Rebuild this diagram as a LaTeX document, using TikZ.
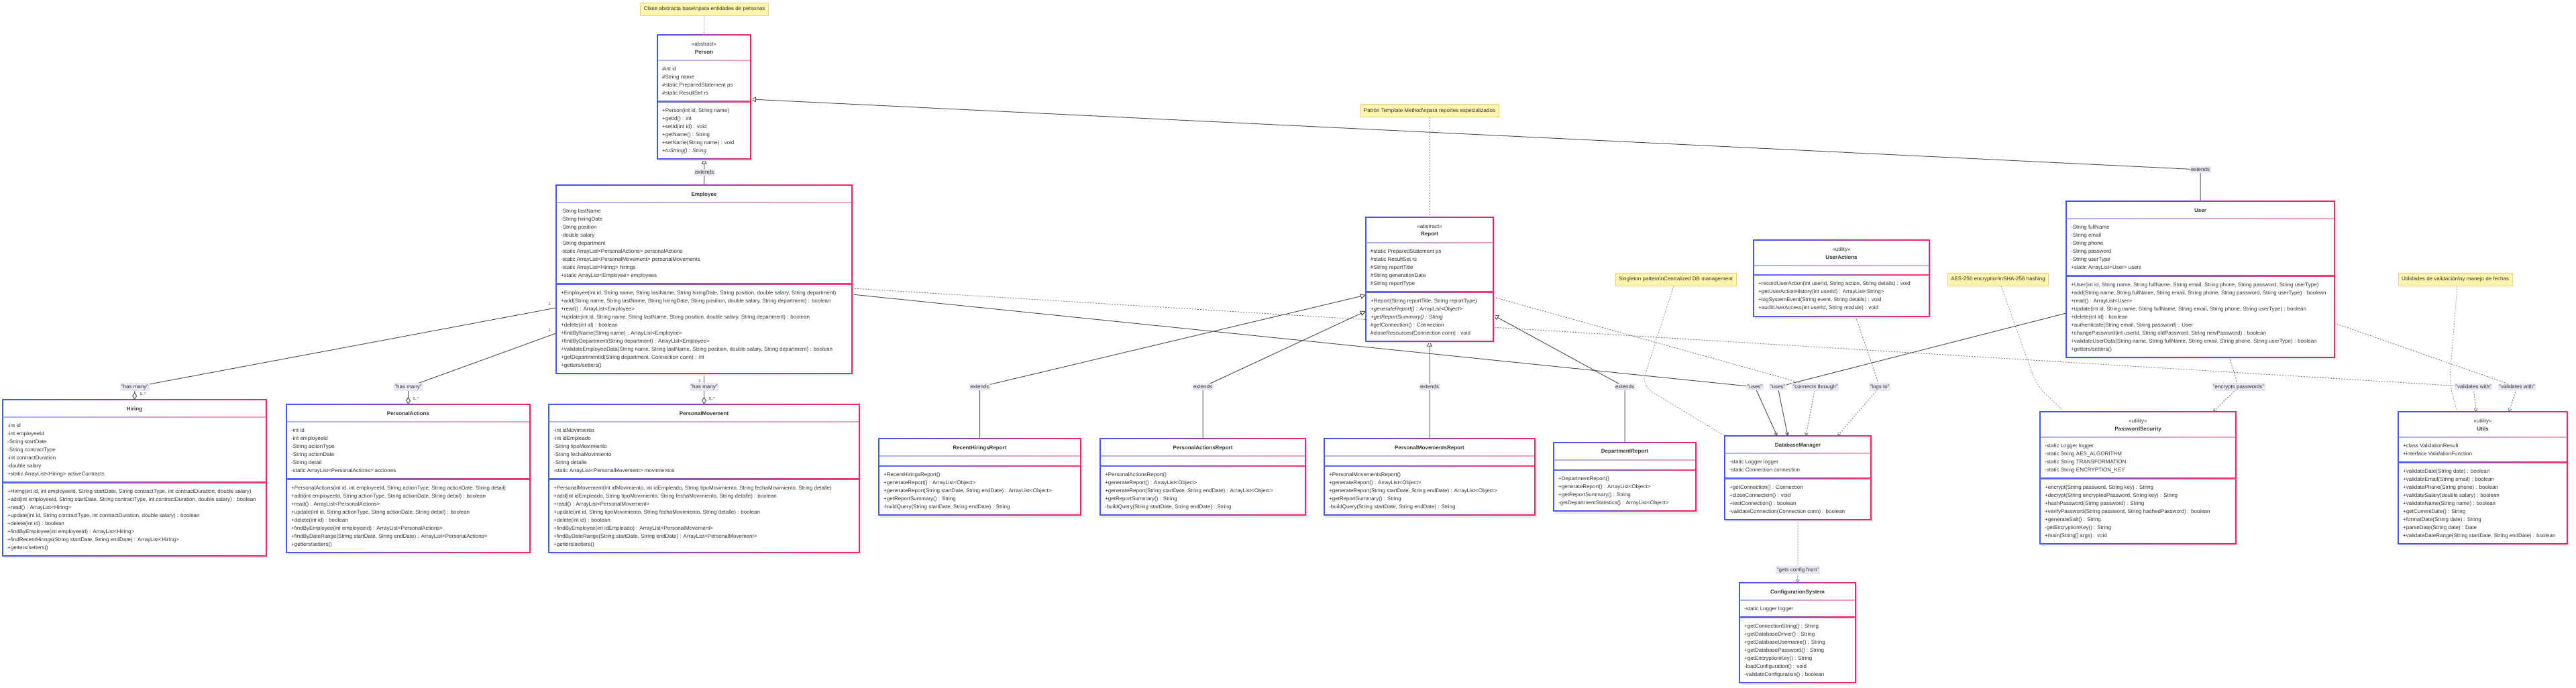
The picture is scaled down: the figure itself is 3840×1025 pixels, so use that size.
\documentclass[tikz,border=0pt]{standalone}
\usepackage{fontspec}
\setmainfont{Liberation Sans}
\usetikzlibrary{arrows.meta,calc}
\pgfdeclarelayer{back}
\pgfdeclarelayer{edges}
\pgfsetlayers{back,edges,main}
\definecolor{ublue}{HTML}{3D5AFE}
\definecolor{upink}{HTML}{F4245E}
\definecolor{txtc}{HTML}{333333}
\definecolor{notefill}{HTML}{FFF5AD}
\definecolor{notedraw}{HTML}{E3D27A}
\definecolor{lblbg}{HTML}{E8E8F2}
\definecolor{edgec}{HTML}{555555}
\definecolor{dotc}{HTML}{777777}
\newcommand\clsframe[7]{%
  \fill[black!9] ({#2+2},{#3+3}) rectangle ({#4+3},{#5+3.5});
  \shade[left color=ublue,right color=upink] ({#2-0.8},{#3-0.8}) rectangle ({#4+0.8},{#5+0.8});
  \fill[white] ({#2+0.8},{#3+0.8}) rectangle ({#4-0.8},{#5-0.8});
  \shade[left color=ublue!45,right color=upink!45] ({#2+0.8},{#6-0.7}) rectangle ({#4-0.8},{#6+0.7});
  \shade[left color=ublue!90,right color=upink!90] ({#2+0.8},{#7-0.7}) rectangle ({#4-0.8},{#7+0.7});
  \node[boxnode,minimum width={#4-#2},minimum height={#5-#3}] (#1) at ({(#2+#4)/2},{(#3+#5)/2}) {};
}
\newcommand\members[4]{\foreach \t [count=\i] in {#4} {\node[mem] (#1\i) at ({#2},{#3+12*\i}) {\t};}}
\tikzset{
  boxnode/.style={inner sep=0pt,outer sep=0pt},
  mem/.style={anchor=west,inner sep=0pt,font=\fontsize{8}{9.6}\selectfont,text=txtc,text height=5.9pt,text depth=1.7pt},
  cname/.style={inner sep=0pt,font=\fontsize{8}{9.6}\selectfont\bfseries,text=txtc},
  cster/.style={inner sep=0pt,font=\fontsize{8}{9.6}\selectfont,text=txtc},
  note/.style={fill=notefill,draw=notedraw,line width=0.8pt,font=\fontsize{8}{9.6}\selectfont,text=txtc,inner xsep=5pt,inner ysep=0pt,minimum height=19pt},
  lbl/.style={fill=lblbg,inner xsep=1.5pt,inner ysep=2pt,font=\fontsize{8}{9.6}\selectfont,text=txtc},
  mult/.style={inner sep=0pt,font=\fontsize{6}{7}\selectfont,text=txtc},
  solidedge/.style={draw=edgec,line width=1pt},
  dotedge/.style={draw=dotc,line width=0.9pt,dash pattern=on 2pt off 2pt},
  ext/.style={solidedge,-{Triangle[length=8pt,width=8pt,fill=white]}},
  agg/.style={solidedge,-{Diamond[length=11pt,width=7pt,fill=white]}},
  dep/.style={solidedge,-{Straight Barb[length=4pt,width=5pt]}},
  depd/.style={dotedge,-{Straight Barb[length=4pt,width=5pt]}},
  noteline/.style={draw=dotc!80,line width=0.8pt,dash pattern=on 2pt off 2pt},
}
\begin{document}
\begin{tikzpicture}[x=1pt,y=-1pt]
\useasboundingbox (0,0) rectangle (3840,1025);
\begin{pgfonlayer}{back}
\fill[white] (0,0) rectangle (3840,1025);
\end{pgfonlayer}

% ---------- Person
\clsframe{person}{980}{52}{1119}{236.5}{90}{151.5}
\node[cster] (person-s) at (person.north |- 0,66) {«abstract»};
\node[cname] (person-n) at (person.north |- 0,77.5) {Person};
\members{person-a}{987}{91.5}{{\#int id},{\#String name},{\#static PreparedStatement ps},{\#static ResultSet rs}}
\members{person-m}{987}{153}{{+Person(int id, String name)},{+getId() : int},{+setId(int id) : void},{+getName() : String},{+setName(String name) : void},{+\textit{toString() : String}}}

% ---------- Employee
\clsframe{emp}{829}{276}{1270}{556.5}{302}{423.5}
\node[cname] (emp-n) at (emp.north |- 0,290) {Employee};
\members{emp-a}{836}{303.5}{{-String lastName},{-String hiringDate},{-String position},{-double salary},{-String department},{-static ArrayList<PersonalActions> personalActions},{-static ArrayList<PersonalMovement> personalMovements},{-static ArrayList<Hiring> hirings},{+static ArrayList<Employee> employees}}
\members{emp-m}{836}{425}{{+Employee(int id, String name, String lastName, String hiringDate, String position, double salary, String department)},{+add(String name, String lastName, String hiringDate, String position, double salary, String department) : boolean},{+read() : ArrayList<Employee>},{+update(int id, String name, String lastName, String position, double salary, String department) : boolean},{+delete(int id) : boolean},{+findByName(String name) : ArrayList<Employee>},{+findByDepartment(String department) : ArrayList<Employee>},{+validateEmployeeData(String name, String lastName, String position, double salary, String department) : boolean},{+getDepartmentId(String department, Connection conn) : int},{+getters/setters()}}

% ---------- Report
\clsframe{report}{2036}{324}{2226}{508.5}{362}{435.5}
\node[cster] (report-s) at (report.north |- 0,337.5) {«abstract»};
\node[cname] (report-n) at (report.north |- 0,349.5) {Report};
\members{report-a}{2043}{363.5}{{\#static PreparedStatement ps},{\#static ResultSet rs},{\#String reportTitle},{\#String generationDate},{\#String reportType}}
\members{report-m}{2043}{437}{{+Report(String reportTitle, String reportType)},{+\textit{generateReport() : ArrayList<Object>}},{+\textit{getReportSummary() : String}},{\#getConnection() : Connection},{\#closeResources(Connection conn) : void}}

% ---------- UserActions
\clsframe{ua}{2614}{358}{2876}{472}{396}{410}
\node[cster] (ua-s) at (ua.north |- 0,372) {«utility»};
\node[cname] (ua-n) at (ua.north |- 0,384) {UserActions};
\members{ua-m}{2621}{411.5}{{+recordUserAction(int userId, String action, String details) : void},{+getUserActionHistory(int userId) : ArrayList<String>},{+logSystemEvent(String event, String details) : void},{+auditUserAccess(int userId, String module) : void}}

% ---------- User
\clsframe{user}{3080}{300}{3480}{532.5}{326}{411.5}
\node[cname] (user-n) at (user.north |- 0,314) {User};
\members{user-a}{3087}{327.5}{{-String fullName},{-String email},{-String phone},{-String password},{-String userType},{+static ArrayList<User> users}}
\members{user-m}{3087}{413}{{+User(int id, String name, String fullName, String email, String phone, String password, String userType)},{+add(String name, String fullName, String email, String phone, String password, String userType) : boolean},{+read() : ArrayList<User>},{+update(int id, String name, String fullName, String email, String phone, String userType) : boolean},{+delete(int id) : boolean},{+authenticate(String email, String password) : User},{+changePassword(int userId, String oldPassword, String newPassword) : boolean},{+validateUserData(String name, String fullName, String email, String phone, String userType) : boolean},{+getters/setters()}}

% ---------- Hiring
\clsframe{hiring}{4}{596}{397}{828.5}{622}{719.5}
\node[cname] (hiring-n) at (hiring.north |- 0,610) {Hiring};
\members{hiring-a}{11}{623.5}{{-int id},{-int employeeId},{-String startDate},{-String contractType},{-int contractDuration},{-double salary},{+static ArrayList<Hiring> activeContracts}}
\members{hiring-m}{11}{721}{{+Hiring(int id, int employeeId, String startDate, String contractType, int contractDuration, double salary)},{+add(int employeeId, String startDate, String contractType, int contractDuration, double salary) : boolean},{+read() : ArrayList<Hiring>},{+update(int id, String contractType, int contractDuration, double salary) : boolean},{+delete(int id) : boolean},{+findByEmployee(int employeeId) : ArrayList<Hiring>},{+findRecentHirings(String startDate, String endDate) : ArrayList<Hiring>},{+getters/setters()}}

% ---------- PersonalActions
\clsframe{pa}{427}{603}{790}{823.5}{629}{714.5}
\node[cname] (pa-n) at (pa.north |- 0,617) {PersonalActions};
\members{pa-a}{434}{630.5}{{-int id},{-int employeeId},{-String actionType},{-String actionDate},{-String detail},{-static ArrayList<PersonalActions> acciones}}
\members{pa-m}{434}{716}{{+PersonalActions(int id, int employeeId, String actionType, String actionDate, String detail)},{+add(int employeeId, String actionType, String actionDate, String detail) : boolean},{+read() : ArrayList<PersonalActions>},{+update(int id, String actionType, String actionDate, String detail) : boolean},{+delete(int id) : boolean},{+findByEmployee(int employeeId) : ArrayList<PersonalActions>},{+findByDateRange(String startDate, String endDate) : ArrayList<PersonalActions>},{+getters/setters()}}

% ---------- PersonalMovement
\clsframe{pm}{818}{603}{1281}{823.5}{629}{714.5}
\node[cname] (pm-n) at (pm.north |- 0,617) {PersonalMovement};
\members{pm-a}{825}{630.5}{{-int idMovimiento},{-int idEmpleado},{-String tipoMovimiento},{-String fechaMovimiento},{-String detalle},{-static ArrayList<PersonalMovement> movimientos}}
\members{pm-m}{825}{716}{{+PersonalMovement(int idMovimiento, int idEmpleado, String tipoMovimiento, String fechaMovimiento, String detalle)},{+add(int idEmpleado, String tipoMovimiento, String fechaMovimiento, String detalle) : boolean},{+read() : ArrayList<PersonalMovement>},{+update(int id, String tipoMovimiento, String fechaMovimiento, String detalle) : boolean},{+delete(int id) : boolean},{+findByEmployee(int idEmpleado) : ArrayList<PersonalMovement>},{+findByDateRange(String startDate, String endDate) : ArrayList<PersonalMovement>},{+getters/setters()}}

% ---------- Reports
\clsframe{rhr}{1310}{654}{1611}{768}{680}{695}
\node[cname] (rhr-n) at (rhr.north |- 0,668) {RecentHiringsReport};
\members{rhr-m}{1317}{696.5}{{+RecentHiringsReport()},{+generateReport() : ArrayList<Object>},{+generateReport(String startDate, String endDate) : ArrayList<Object>},{+getReportSummary() : String},{-buildQuery(String startDate, String endDate) : String}}

\clsframe{par}{1640}{654}{1946}{768}{680}{695}
\node[cname] (par-n) at (par.north |- 0,668) {PersonalActionsReport};
\members{par-m}{1647}{696.5}{{+PersonalActionsReport()},{+generateReport() : ArrayList<Object>},{+generateReport(String startDate, String endDate) : ArrayList<Object>},{+getReportSummary() : String},{-buildQuery(String startDate, String endDate) : String}}

\clsframe{pmr}{1974}{654}{2288}{768}{680}{695}
\node[cname] (pmr-n) at (pmr.north |- 0,668) {PersonalMovementsReport};
\members{pmr-m}{1981}{696.5}{{+PersonalMovementsReport()},{+generateReport() : ArrayList<Object>},{+generateReport(String startDate, String endDate) : ArrayList<Object>},{+getReportSummary() : String},{-buildQuery(String startDate, String endDate) : String}}

\clsframe{dr}{2316}{660}{2528}{762}{686}{701}
\node[cname] (dr-n) at (dr.north |- 0,674) {DepartmentReport};
\members{dr-m}{2323}{702.5}{{+DepartmentReport()},{+generateReport() : ArrayList<Object>},{+getReportSummary() : String},{-getDepartmentStatistics() : ArrayList<Object>}}

% ---------- DatabaseManager
\clsframe{dbm}{2571}{650}{2789}{774.5}{676}{713.5}
\node[cname] (dbm-n) at (dbm.north |- 0,664) {DatabaseManager};
\members{dbm-a}{2578}{677.5}{{-static Logger logger},{-static Connection connection}}
\members{dbm-m}{2578}{715}{{+getConnection() : Connection},{+closeConnection() : void},{+testConnection() : boolean},{-validateConnection(Connection conn) : boolean}}

% ---------- ConfigurationSystem
\clsframe{cfg}{2593}{869}{2766}{1017.5}{895}{920.5}
\node[cname] (cfg-n) at (cfg.north |- 0,883) {ConfigurationSystem};
\members{cfg-a}{2600}{896.5}{{-static Logger logger}}
\members{cfg-m}{2600}{922}{{+getConnectionString() : String},{+getDatabaseDriver() : String},{+getDatabaseUsername() : String},{+getDatabasePassword() : String},{+getEncryptionKey() : String},{-loadConfiguration() : void},{-validateConfiguration() : boolean}}

% ---------- PasswordSecurity
\clsframe{ps}{3041}{614}{3333}{810.5}{652}{713.5}
\node[cster] (ps-s) at (ps.north |- 0,628) {«utility»};
\node[cname] (ps-n) at (ps.north |- 0,640) {PasswordSecurity};
\members{ps-a}{3048}{653.5}{{-static Logger logger},{-static String AES\_ALGORITHM},{-static String TRANSFORMATION},{-static String ENCRYPTION\_KEY}}
\members{ps-m}{3048}{715}{{+encrypt(String password, String key) : String},{+decrypt(String encryptedPassword, String key) : String},{+hashPassword(String password) : String},{+verifyPassword(String password, String hashedPassword) : boolean},{+generateSalt() : String},{-getEncryptionKey() : String},{+main(String[] args) : void}}

% ---------- Utils
\clsframe{utils}{3575}{614}{3827}{810.5}{652}{689.5}
\node[cster] (utils-s) at (utils.north |- 0,628) {«utility»};
\node[cname] (utils-n) at (utils.north |- 0,640) {Utils};
\members{utils-a}{3582}{653.5}{{+class ValidationResult},{+interface ValidationFunction}}
\members{utils-m}{3582}{691}{{+validateDate(String date) : boolean},{+validateEmail(String email) : boolean},{+validatePhone(String phone) : boolean},{+validateSalary(double salary) : boolean},{+validateName(String name) : boolean},{+getCurrentDate() : String},{+formatDate(String date) : String},{+parseDate(String date) : Date},{+validateDateRange(String startDate, String endDate) : boolean}}

% ---------- Notes
\node[note] (n1) at (1050,13.5) {Clase abstracta base\textbackslash npara entidades de personas};
\node[note] (n2) at (2131,165) {Patrón Template Method\textbackslash npara reportes especializados};
\node[note] (n3) at (2498,416.5) {Singleton pattern\textbackslash nCentralized DB management};
\node[note] (n4) at (2978.5,416.5) {AES-256 encryption\textbackslash nSHA-256 hashing};
\node[note] (n5) at (3660,416.5) {Utilidades de validación\textbackslash ny manejo de fechas};

% ---------- label positions
\coordinate (c1) at (1050,257);
\coordinate (c2) at (3280,253);
\coordinate (c3) at (1460.5,577);
\coordinate (c4) at (1793,577);
\coordinate (c5) at (2131,577);
\coordinate (c6) at (2422,577);
\coordinate (c7) at (201,577);
\coordinate (c8) at (608.5,577);
\coordinate (c9) at (1049.5,577);
\coordinate (c10) at (2616,577);
\coordinate (c11) at (2650,577);
\coordinate (c12) at (2706,577);
\coordinate (c13) at (2802,577);
\coordinate (c14) at (2680,850);
\coordinate (c15) at (3337,577);
\coordinate (c16) at (3687,577);
\coordinate (c17) at (3752,577);

% ---------- Edges
\begin{pgfonlayer}{edges}
\draw[noteline] (n1.south) -- (person.north);
\draw[noteline] (n2.south) -- (report.north);
\draw[noteline,rounded corners=18pt] (n3.south -| 2495,0) -- (2447,575) -- (dbm.north west);
\draw[noteline,rounded corners=18pt] (n4.south -| 2983,0) -- (3036,575) -- (ps.north -| 3077,0);
\draw[noteline,rounded corners=20pt] (n5.south -| 3663,0) -- (3651,573) -- (utils.north -| 3663,0);

\draw[ext] (emp.north) -- (c1) -- (person.south);
\draw[ext] (user.north) -- (c2) -- (person.east |- 0,148);
\draw[ext] (rhr.north) -- (c3) -- (report.west |- 0,440);
\draw[ext] (par.north) -- (c4) -- (report.west |- 0,464);
\draw[ext] (pmr.north) -- (c5) -- (report.south);
\draw[ext] (dr.north) -- (c6) -- (report.east |- 0,470);

\draw[agg] (emp.west |- 0,459) -- (c7) -- (hiring.north);
\draw[agg] (emp.west |- 0,497) -- (c8) -- (pa.north);
\draw[agg] (emp.south) -- (c9) -- (pm.north);

\draw[dep] (emp.east |- 0,439) -- (c10) -- (dbm.north -| 2649,0);
\draw[dep] (user.west |- 0,467) -- (c11) -- (dbm.north -| 2665,0);
\draw[depd] (report.east |- 0,443) -- (c12) -- (dbm.north -| 2692,0);
\draw[depd] (ua.south -| 2766,0) -- (c13) -- (dbm.north -| 2739,0);
\draw[depd] (dbm.south) -- (c14) -- (cfg.north);
\draw[depd] (user.south -| 3323,0) -- (c15) -- (ps.north -| 3299,0);
\draw[depd] (emp.east |- 0,430) -- (c16) -- (utils.north -| 3691,0);
\draw[depd] (user.east |- 0,482) -- (c17) -- (utils.north -| 3740,0);
\end{pgfonlayer}

% ---------- Labels
\node[lbl] (l1) at (c1) {extends};
\node[lbl] (l2) at (c2) {extends};
\node[lbl] (l3) at (c3) {extends};
\node[lbl] (l4) at (c4) {extends};
\node[lbl] (l5) at (c5) {extends};
\node[lbl] (l6) at (c6) {extends};
\node[lbl] (l7) at (c7) {"has many"};
\node[lbl] (l8) at (c8) {"has many"};
\node[lbl] (l9) at (c9) {"has many"};
\node[lbl] (l10) at (c10) {"uses"};
\node[lbl] (l11) at (c11) {"uses"};
\node[lbl] (l12) at (c12) {"connects through"};
\node[lbl] (l13) at (c13) {"logs to"};
\node[lbl] (l14) at (c14) {"gets config from"};
\node[lbl] (l15) at (c15) {"encrypts passwords"};
\node[lbl] (l16) at (c16) {"validates with"};
\node[lbl] (l17) at (c17) {"validates with"};

\node[mult] (m1) at (819,453) {1};
\node[mult] (m2) at (819,492) {1};
\node[mult] (m3) at (1043,568) {1};
\node[mult] (m4) at (213,587) {0..*};
\node[mult] (m5) at (620,594) {0..*};
\node[mult] (m6) at (1061,594) {0..*};
\end{tikzpicture}
\end{document}
